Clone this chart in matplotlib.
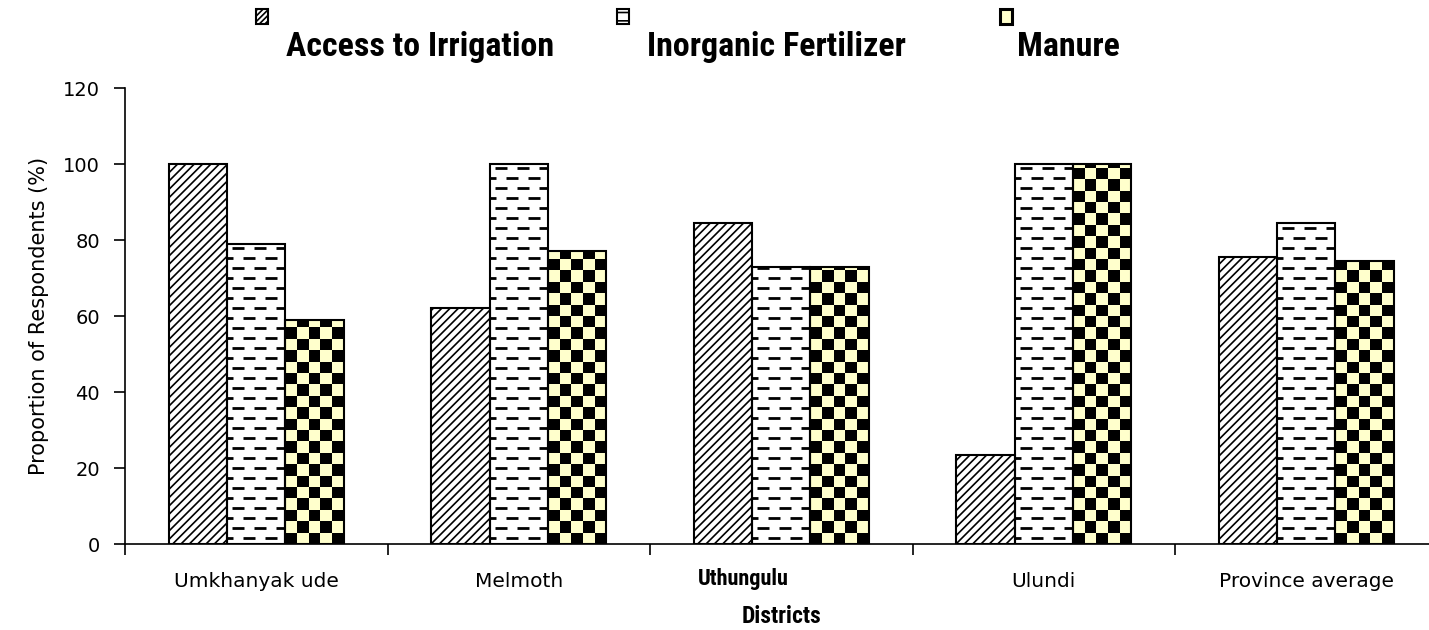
import numpy as np
import matplotlib as mpl
mpl.use("Agg")
from matplotlib import pyplot as plt
from matplotlib.patches import Patch, Rectangle
from matplotlib.colors import ListedColormap
from matplotlib.legend_handler import HandlerPatch
from matplotlib.transforms import ScaledTranslation
import matplotlib.font_manager as font_manager

districts = ["Umkhanyak ude", "Melmoth", "Uthungulu", "Ulundi", "Province average"]
series = ["Access to Irrigation", "Inorganic Fertilizer", "Manure"]
irrigation = [100, 62, 84.5, 23.5, 75.5]
fertilizer = [79, 100, 73, 100, 84.5]
manure = [59, 77, 73, 100, 74.5]
yticks = [0, 20, 40, 60, 80, 100, 120]

cream = "#FFFFCC"
# look for a narrow face; fall back to plain DejaVu
names = {f.name for f in font_manager.fontManager.ttflist}
narrow = [n for n in ["Roboto Condensed", "Liberation Sans Narrow", "DejaVu Sans Condensed"]
          if n in names] + ["DejaVu Sans"]
condensed = narrow[0] != "DejaVu Sans"
mpl.rcParams['font.family'] = ["DejaVu Sans"]
mpl.rcParams['hatch.linewidth'] = 1.2


def dash_fill(ax, bar, row_step=2.63, period=0.0838):
  # staggered short dashes, clipped to the bar
  x0, w, h = bar.get_x(), bar.get_width(), bar.get_height()
  k = 0
  y = row_step * 0.6
  while y < h:
    off = 0 if k % 2 == 0 else period / 2
    xs = np.arange(x0 - period + off, x0 + w + period, period)
    ln, = ax.plot(xs, np.full(len(xs), y), ls='none', marker='_', ms=8,
                  mew=2, color='black', zorder=2)
    ln.set_clip_path(bar)
    y += row_step
    k += 1


def checker_fill(ax, bar, ncol=5, step=3.0):
  x0, w, h = bar.get_x(), bar.get_width(), bar.get_height()
  xe = np.linspace(x0, x0 + w, ncol + 1)
  ye = np.arange(0, h + step, step)
  c = (np.add.outer(np.arange(len(ye) - 1), np.arange(ncol)) % 2)
  m = ax.pcolormesh(xe, ye, c, cmap=ListedColormap(['black', cream]), zorder=2)
  m.set_clip_path(bar)


class RaisedPatch(HandlerPatch):
  # small box sitting above the label, as in the original
  def create_artists(self, legend, orig_handle, xdescent, ydescent, width,
                     height, fontsize, trans):
    p = Rectangle((-xdescent, -ydescent + fontsize * 0.8), width, height)
    self.update_prop(p, orig_handle, legend)
    p.set_transform(trans)
    return [p]


fig = plt.figure(figsize=(14.29, 6.30), dpi=100)
ax = fig.add_axes([125 / 1429, 86 / 630, 1312.5 / 1429, 456 / 630])

x = np.arange(len(districts))
bw = 0.222
b1 = ax.bar(x - bw, irrigation, bw, facecolor='white', edgecolor='black',
            hatch='////', linewidth=1.5, zorder=3)
b2 = ax.bar(x, fertilizer, bw, facecolor='white', edgecolor='none', zorder=1)
b3 = ax.bar(x + bw, manure, bw, facecolor='white', edgecolor='none', zorder=1)
for bar in b2:
  dash_fill(ax, bar)
for bar in b3:
  checker_fill(ax, bar)
ax.bar(x, fertilizer, bw, fill=False, edgecolor='black', linewidth=1.5, zorder=3)
ax.bar(x + bw, manure, bw, fill=False, edgecolor='black', linewidth=1.5, zorder=3)

ax.set_xlim(-0.5, len(districts) - 0.5)
ax.set_ylim(0, 120)
ax.set_yticks(yticks)
ax.tick_params(axis='y', direction='out', length=8, width=1.2, pad=10, labelsize=14)
ax.set_xticks(np.arange(len(districts)) - 0.5)
ax.set_xticklabels([])
ax.tick_params(axis='x', which='major', direction='out', length=8, width=1.2)
ax.set_xticks(x, labels=districts, minor=True)
ax.tick_params(axis='x', which='minor', length=0, pad=20, labelsize=14.5)
lab = ax.get_xticklabels(minor=True)[2]
lab.set_fontproperties(font_manager.FontProperties(family=narrow, weight='bold',
                                                   size=16 if condensed else 12))
lab.set_transform(lab.get_transform() + ScaledTranslation(-38 / 100, 4 / 100, fig.dpi_scale_trans))
ax.spines['top'].set_visible(False)
ax.spines['right'].set_visible(False)
ax.spines['left'].set_linewidth(1.2)
ax.spines['bottom'].set_linewidth(1.2)
ax.set_ylabel("Proportion of Respondents (%)", fontsize=15, labelpad=10)
ax.set_xlabel("Districts", fontsize=17 if condensed else 14, fontweight='bold',
              family=narrow, labelpad=10)

handles = [Patch(facecolor='white', edgecolor='black', hatch='//////', lw=1.5),
           Patch(facecolor='white', edgecolor='black', hatch='--', lw=1.5),
           Patch(facecolor=cream, edgecolor='black', lw=2.2)]
marker_x = [256, 617, 1000]
for h, name, mx in zip(handles, series, marker_x):
  fig.legend([h], [name], loc='upper left', bbox_to_anchor=(mx / 1429, 1 - 31 / 630),
             frameon=False, borderpad=0, borderaxespad=0,
             handlelength=0.34, handleheight=0.34,
             handletextpad=0.55 if name != "Manure" else 0.15,
             handler_map={Patch: RaisedPatch()},
             prop=dict(family=narrow, weight='bold', size=24.5 if condensed else 18))

plt.savefig("out.png", dpi=100)
